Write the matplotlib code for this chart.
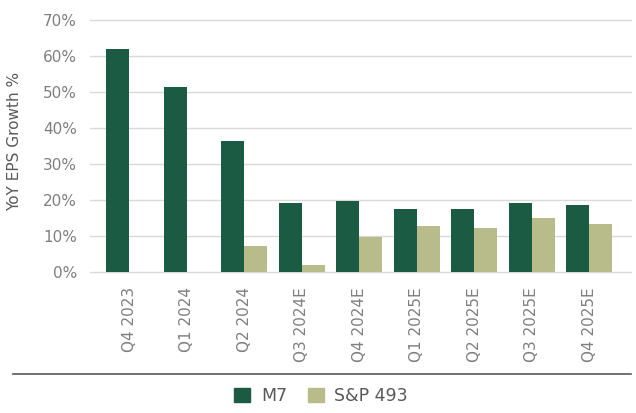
import matplotlib.pyplot as plt
import numpy as np
from matplotlib.patches import Rectangle
from matplotlib.lines import Line2D

quarters = ["Q4 2023", "Q1 2024", "Q2 2024", "Q3 2024E", "Q4 2024E",
            "Q1 2025E", "Q2 2025E", "Q3 2025E", "Q4 2025E"]
m7 = [62.0, 51.5, 36.5, 19.2, 19.9, 17.7, 17.7, 19.3, 18.8]
sp493 = [0.2, 0.2, 7.3, 2.0, 9.9, 13.0, 12.4, 15.2, 13.3]

green = "#1b5a43"
khaki = "#b8bc8a"
grey_txt = "#7f7f7f"
dark_txt = "#595959"

plt.rcParams['font.family'] = ['DejaVu Sans']

fig = plt.figure(figsize=(6.36, 4.13), dpi=100)
ax = fig.add_axes([90/636, 1 - 272.3/413, 541/636, 252/413])

x = np.arange(len(quarters))
w = 0.4
ax.bar(x - w/2, m7, w, color=green, zorder=3)
ax.bar(x + w/2, sp493, w, color=khaki, zorder=3)

ax.set_xlim(-0.68, 8.73)
ax.set_ylim(0, 70)
ax.set_yticks(np.arange(0, 71, 10))
ax.set_yticklabels([f"{v}%" for v in range(0, 71, 10)])
ax.set_xticks(x)
ax.set_xticklabels(quarters, rotation=90, va="top", ha="center")

ax.tick_params(axis="y", length=0, pad=9.5, labelsize=11, labelcolor=grey_txt)
ax.tick_params(axis="x", length=0, pad=10.5, labelsize=11, labelcolor=grey_txt)
ax.grid(axis="y", color="#d9d9d9", linewidth=1.0, zorder=0)
ax.set_axisbelow(True)
for gl in ax.get_ygridlines():
    gl.set_clip_on(False)
for s in ax.spines.values():
    s.set_visible(False)

ax.set_ylabel("YoY EPS Growth %", fontsize=11, color=dark_txt, labelpad=8)
ax.yaxis.set_label_coords(-(90 - 22) / 541, 0.52)

# separator line above the legend
fig.add_artist(Line2D([13/636, 631/636], [1 - 374/413] * 2,
                      color=dark_txt, linewidth=1.2, transform=fig.transFigure))

handles = [Rectangle((0, 0), 1, 1, color=green), Rectangle((0, 0), 1, 1, color=khaki)]
fig.legend(handles, ["M7", "S&P 493"], loc="center", bbox_to_anchor=(0.505, 1 - 396/413),
           ncol=2, frameon=False, fontsize=12.5, labelcolor=dark_txt,
           handlelength=0.92, handleheight=0.92, handletextpad=0.6, columnspacing=1.2)

fig.savefig("out.png", dpi=100)
